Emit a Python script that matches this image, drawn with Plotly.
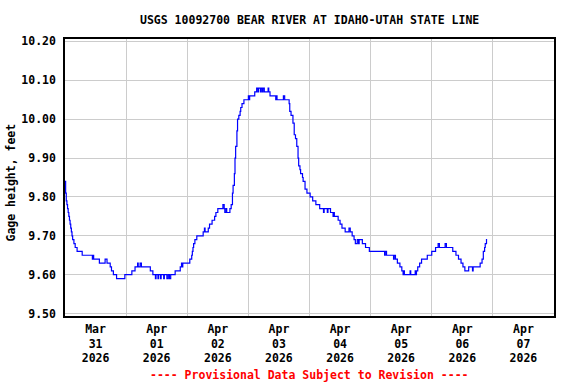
import pandas as pd
import plotly.graph_objects as go

# ---- data (step change points, 15-min record) ----
start = "2026-03-31 00:00"
hours = [
    0.00, 0.25, 0.50, 0.75, 1.00, 1.25, 1.50, 1.75, 2.00, 2.25, 2.50, 2.75, 3.00, 3.50, 4.00, 4.75,
    6.75, 10.75, 11.00, 11.25, 13.50, 15.75, 16.50, 17.75, 18.25, 19.00, 20.25, 23.50,
    26.25, 27.50, 28.50, 28.75, 29.50, 30.00, 33.50, 34.50, 35.50, 35.75, 36.50, 36.75,
    37.50, 37.75, 38.75, 39.00, 40.00, 40.50, 41.00, 41.50, 43.25, 45.25, 45.75, 46.00, 46.25,
    49.00, 49.75, 50.00, 50.25, 50.50, 51.00, 51.75, 54.25, 54.75, 55.00, 56.25, 56.75,
    57.75, 58.75, 59.25, 60.00, 62.00, 62.50, 62.75, 63.25, 63.50, 64.75, 65.25, 65.75,
    66.00, 66.50, 66.75, 67.00, 67.50, 67.75, 68.25, 68.75, 69.00, 69.50, 70.25,
    72.00, 72.25, 72.50, 74.50, 75.25, 75.75, 76.00, 76.75, 77.00, 77.50, 77.75, 78.25,
    79.75, 80.00, 80.50, 82.75, 83.00, 83.25, 85.75, 86.25, 88.00, 88.25, 88.75, 89.50,
    90.00, 90.50, 91.00, 91.50, 91.75, 92.25, 92.50, 93.25, 93.50, 94.25, 95.00,
    96.25, 97.25, 98.50, 100.00, 101.50, 101.75, 103.00, 103.25, 104.25, 105.25, 105.50,
    105.75, 107.25, 108.00, 108.75, 110.00, 111.50, 112.00, 112.75, 113.50, 114.00,
    114.75, 115.25, 115.50, 116.75, 118.00, 119.50,
    125.50, 125.75, 126.25, 129.00, 129.25, 129.75, 130.50, 131.50, 132.25, 132.75, 133.00,
    133.25, 135.50, 135.75, 137.50, 137.75, 138.00, 138.50, 139.25, 140.00, 142.25,
    144.00, 145.50, 146.50, 147.00, 149.25, 149.75, 152.25, 153.50, 154.50, 155.50,
    156.25, 157.00, 158.50, 160.00, 160.25, 163.00, 163.75, 164.25, 164.75, 165.00,
    165.50, 165.75,
]
gage_ft = [
    9.84, 9.81, 9.79, 9.78, 9.77, 9.76, 9.75, 9.74, 9.73, 9.72, 9.71, 9.70, 9.69, 9.68, 9.67, 9.66,
    9.65, 9.64, 9.65, 9.64, 9.63, 9.64, 9.63, 9.62, 9.61, 9.60, 9.59, 9.60,
    9.61, 9.62, 9.63, 9.62, 9.63, 9.62, 9.61, 9.60, 9.59, 9.60, 9.59, 9.60,
    9.59, 9.60, 9.59, 9.60, 9.59, 9.60, 9.59, 9.60, 9.61, 9.62, 9.63, 9.62, 9.63,
    9.64, 9.65, 9.66, 9.67, 9.68, 9.69, 9.70, 9.71, 9.72, 9.71, 9.72, 9.73,
    9.74, 9.75, 9.76, 9.77, 9.78, 9.77, 9.76, 9.77, 9.76, 9.77, 9.78, 9.81,
    9.83, 9.86, 9.90, 9.93, 9.97, 10.00, 10.01, 10.02, 10.03, 10.04, 10.05,
    10.06, 10.05, 10.06, 10.07, 10.08, 10.07, 10.08, 10.07, 10.08, 10.07, 10.08, 10.07,
    10.08, 10.07, 10.06, 10.05, 10.06, 10.05, 10.06, 10.05, 10.04, 10.02, 10.01, 9.99,
    9.96, 9.95, 9.93, 9.90, 9.88, 9.87, 9.86, 9.85, 9.84, 9.82, 9.81,
    9.80, 9.79, 9.78, 9.77, 9.76, 9.77, 9.76, 9.77, 9.76, 9.75, 9.76,
    9.75, 9.74, 9.73, 9.72, 9.71, 9.72, 9.71, 9.70, 9.69, 9.68,
    9.69, 9.68, 9.69, 9.68, 9.67, 9.66,
    9.65, 9.66, 9.65, 9.64, 9.65, 9.64, 9.63, 9.62, 9.61, 9.60, 9.61,
    9.60, 9.61, 9.60, 9.61, 9.60, 9.61, 9.62, 9.63, 9.64, 9.65,
    9.66, 9.67, 9.68, 9.67, 9.68, 9.67, 9.66, 9.65, 9.64, 9.63,
    9.62, 9.61, 9.62, 9.61, 9.62, 9.63, 9.64, 9.66, 9.67, 9.68,
    9.69, 9.69,
]
y_ticks = [9.50, 9.60, 9.70, 9.80, 9.90, 10.00, 10.10, 10.20]
x_range = ["2026-03-31 00:00", "2026-04-08 00:00"]
title_text = "USGS 10092700 BEAR RIVER AT IDAHO-UTAH STATE LINE"
y_title = "Gage height, feet"
note_text = "---- Provisional Data Subject to Revision ----"

times = [pd.Timestamp(start) + pd.Timedelta(hours=h) for h in hours]

FONT = "DejaVu Sans Mono"
FS = 11.5
GRID = "#cccccc"

fig = go.Figure()
fig.add_trace(go.Scatter(
    x=times, y=gage_ft, mode="lines", line=dict(color="#0000ff", width=1.2, shape="hv"),
    showlegend=False, hoverinfo="x+y",
))

fig.update_layout(
    width=576, height=384,
    margin=dict(l=65, r=22, t=39, b=68),
    paper_bgcolor="white", plot_bgcolor="white",
    font=dict(family=FONT, size=FS, color="black", weight="bold"),
    xaxis=dict(
        type="date", range=x_range, dtick=86400000, tick0="2026-03-31",
        ticklabelmode="period", tickformat="%b<br>%d<br>%Y",
        showgrid=True, gridcolor=GRID, gridwidth=1,
        showline=True, mirror=True, linecolor="black", linewidth=1.5,
        ticks="", zeroline=False, ticklabelstandoff=1,
        tickfont=dict(family=FONT, size=FS, color="black", weight="bold"),
    ),
    yaxis=dict(
        range=[9.4938, 10.2062], tickvals=y_ticks, ticktext=[f"{v:.2f}" for v in y_ticks],
        showgrid=True, gridcolor=GRID, gridwidth=1,
        showline=True, mirror=True, linecolor="black", linewidth=1.5,
        ticks="", zeroline=False, ticklabelstandoff=5,
        tickfont=dict(family=FONT, size=FS, color="black", weight="bold"),
    ),
    annotations=[
        dict(text=title_text, xref="paper", yref="paper", x=0.5, y=(315.7 - 20) / 276.4,
             xanchor="center", yanchor="middle", showarrow=False,
             font=dict(family=FONT, size=FS, color="black", weight="bold")),
        dict(text=y_title, xref="paper", yref="paper", x=(12 - 65.5) / 489, y=(315.7 - 183) / 276.4,
             xanchor="center", yanchor="middle", textangle=-90, showarrow=False,
             font=dict(family=FONT, size=FS, color="black", weight="bold")),
        dict(text=note_text, xref="paper", yref="paper", x=0.5, y=(315.7 - 375) / 276.4,
             xanchor="center", yanchor="middle", showarrow=False,
             font=dict(family=FONT, size=FS, color="#ff0000", weight="bold")),
    ],
)

fig.write_html(
    "out.html",
    config={"displayModeBar": False},
    post_script="document.body.style.margin='0';",
)
